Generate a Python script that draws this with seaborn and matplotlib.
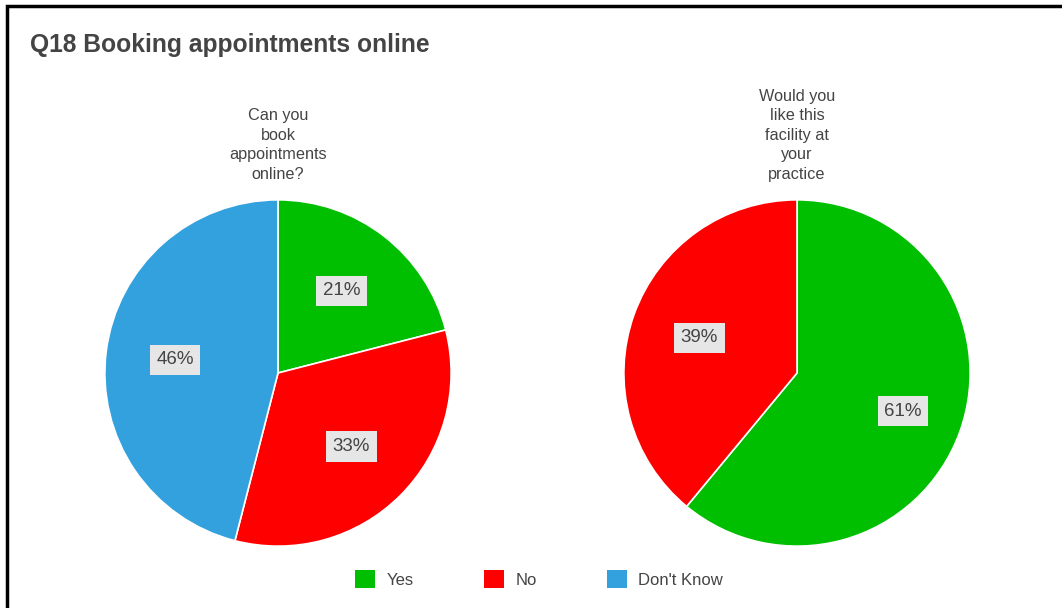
import matplotlib
matplotlib.use("Agg")
import numpy as np
import matplotlib.pyplot as plt
from matplotlib.patches import Rectangle, Patch
import seaborn as sns

# Survey answers
categories = ["Yes", "No", "Don't Know"]
can_book = [21, 33, 46]
would_like = [61, 39]
pie_titles = ["Can you\nbook\nappointments\nonline?",
              "Would you\nlike this\nfacility at\nyour\npractice"]
chart_title = "Q18 Booking appointments online"

sns.set_theme(style="white")
plt.rcParams["font.family"] = ["Liberation Sans", "DejaVu Sans"]

palette = sns.color_palette(["#00bf00", "#ff0000", "#33a1de"])
text_color = "#444444"

W, H = 1062, 608
fig = plt.figure(figsize=(W / 100, H / 100), dpi=100)
fig.patch.set_facecolor("white")


def px_axes(cx, cy, r):
    return fig.add_axes([(cx - r) / W, (H - cy - r) / H, 2 * r / W, 2 * r / H])


def draw_pie(ax, values, colors, label_dist):
    wedges, texts, autotexts = ax.pie(
        values, colors=colors, startangle=90, counterclock=False,
        radius=1.0, autopct=lambda p: f"{p:.0f}%", pctdistance=0.6,
        wedgeprops=dict(edgecolor="white", linewidth=1.2),
        textprops=dict(fontsize=13.5, color=text_color))
    for w, t, d in zip(wedges, autotexts, label_dist):
        ang = np.deg2rad((w.theta1 + w.theta2) / 2)
        t.set_position((d * np.cos(ang), d * np.sin(ang)))
        t.set_bbox(dict(boxstyle="square,pad=0.35", facecolor="#e6e6e6",
                        edgecolor="none"))
    ax.set_xlim(-1.005, 1.005)
    ax.set_ylim(-1.005, 1.005)
    ax.set_aspect("equal")
    ax.axis("off")


r = 174
ax1 = px_axes(278, 373, r)
draw_pie(ax1, can_book, palette[:3], [0.6, 0.6, 0.6])
ax2 = px_axes(797, 373, r)
draw_pie(ax2, would_like, palette[:2], [0.65, 0.6])

fig.text(278 / W, 1 - 182 / H, pie_titles[0], ha="center", va="bottom",
         fontsize=11.7, color=text_color, linespacing=1.38)
fig.text(797 / W, 1 - 182 / H, pie_titles[1], ha="center", va="bottom",
         fontsize=11.7, color=text_color, linespacing=1.38)

fig.text(30 / W, 1 - 45 / H, chart_title, ha="left", va="center",
         fontsize=17.7, fontweight="bold", color=text_color)

handles = [Patch(facecolor=c, edgecolor="none") for c in palette]
fig.legend(handles, categories, loc="center", bbox_to_anchor=(539 / W, 1 - 579 / H),
           ncol=3, frameon=False, fontsize=12, handlelength=1.2,
           handleheight=1.2, handletextpad=0.7, columnspacing=4.2,
           labelcolor=text_color)

# outer frame
fig.add_artist(Rectangle((7 / W, -0.2), 2.0, 1.2 + (1 - 6 / H) - 1.0,
                         transform=fig.transFigure, fill=False,
                         edgecolor="black", linewidth=2.5))

fig.savefig("out.png", dpi=100, facecolor="white")
